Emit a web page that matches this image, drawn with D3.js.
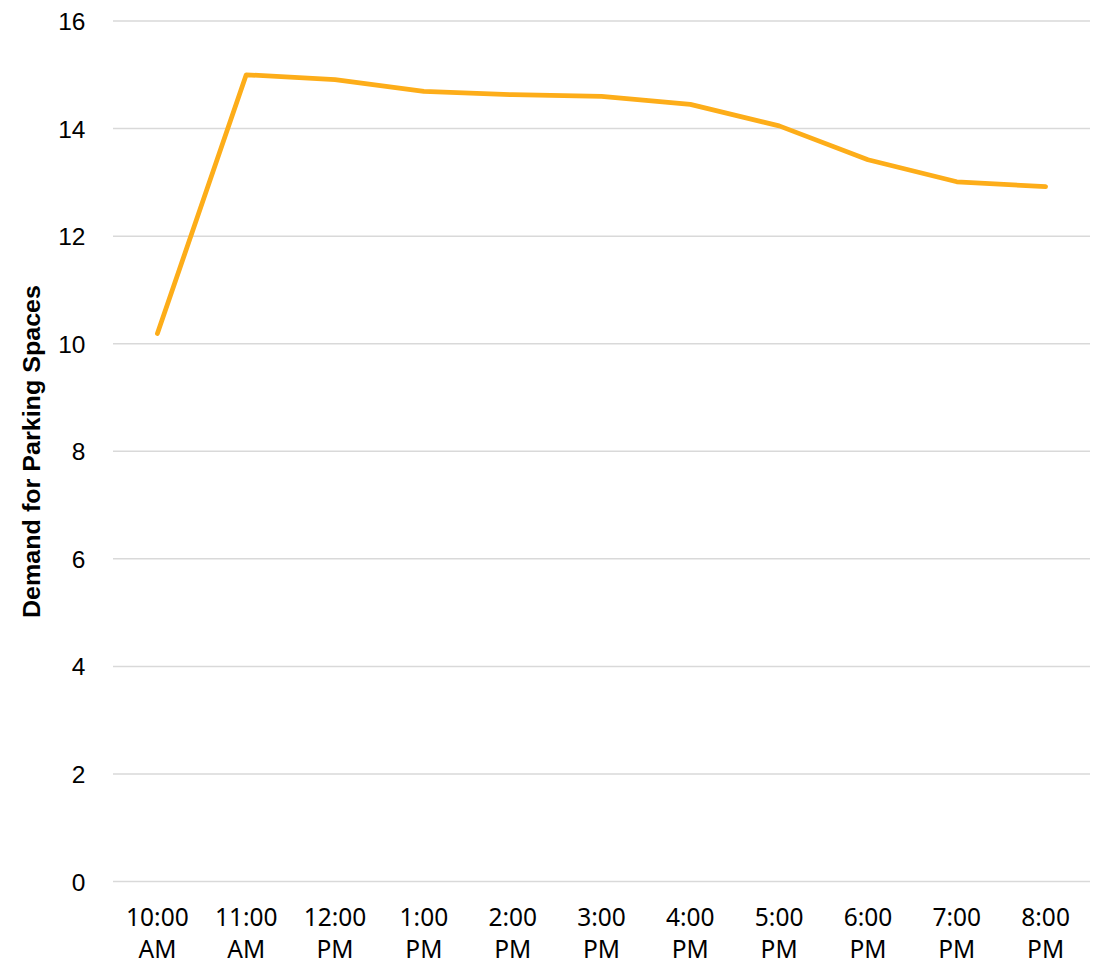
<!DOCTYPE html>
<html>
<head>
<meta charset="utf-8">
<script src="https://cdn.jsdelivr.net/npm/d3@7/dist/d3.min.js"></script>
<style>
  html, body { margin: 0; padding: 0; background: #fff; }
  svg { display: block; }
</style>
</head>
<body>
<svg id="chart" width="1099" height="966"></svg>
<script>
// Hourly parking demand
const hours = ["10:00 AM", "11:00 AM", "12:00 PM", "1:00 PM", "2:00 PM", "3:00 PM",
               "4:00 PM", "5:00 PM", "6:00 PM", "7:00 PM", "8:00 PM"];
const demand = [10.19, 15.0, 14.91, 14.69, 14.63, 14.6, 14.45, 14.05, 13.42, 13.01, 12.92];
const yTicks = [0, 2, 4, 6, 8, 10, 12, 14, 16];
const yTitle = "Demand for Parking Spaces";

const W = 1099, H = 966;
const margin = { left: 113, right: 9, top: 21, bottom: 84.5 };
const svg = d3.select("#chart");

const x = d3.scaleBand()
  .domain(hours)
  .range([margin.left, W - margin.right])
  .paddingInner(0).paddingOuter(0);

const y = d3.scaleLinear()
  .domain([0, 16])
  .range([H - margin.bottom, margin.top]);

// Horizontal gridlines
svg.append("g")
  .selectAll("line")
  .data(yTicks)
  .join("line")
  .attr("x1", margin.left)
  .attr("x2", W - margin.right)
  .attr("y1", d => y(d))
  .attr("y2", d => y(d))
  .attr("stroke", "#d9d9d9")
  .attr("stroke-width", 1.5);

// Y axis labels
const yAxis = d3.axisLeft(y).tickValues(yTicks).tickSize(0).tickPadding(0);
svg.append("g")
  .attr("transform", `translate(${margin.left - 27.5},0)`)
  .call(yAxis)
  .call(g => g.select(".domain").remove())
  .call(g => g.selectAll("text")
    .attr("font-family", "'Liberation Sans', Arial, sans-serif")
    .attr("font-size", 24.5)
    .attr("fill", "#000")
    .attr("dy", "0.35em"));

// X axis labels: time on first line, AM/PM on the second
const xAxis = d3.axisBottom(x).tickSize(0).tickFormat("");
const xg = svg.append("g")
  .attr("transform", `translate(0,${H - margin.bottom})`)
  .call(xAxis)
  .call(g => g.select(".domain").remove());

xg.selectAll(".tick").each(function(d) {
  const parts = d.split(" ");
  const t = d3.select(this).append("text")
    .attr("text-anchor", "middle")
    .attr("font-family", "'Noto Sans', sans-serif")
    .attr("font-size", 24.5)
    .attr("fill", "#000");
  t.append("tspan").attr("x", 0).attr("y", 44.5).text(parts[0]);
  t.append("tspan").attr("x", 0).attr("y", 76.5).text(parts[1]);
});

// Y axis title
svg.append("text")
  .attr("transform", `translate(40,451.5) rotate(-90)`)
  .attr("text-anchor", "middle")
  .attr("font-family", "'Liberation Sans', Arial, sans-serif")
  .attr("font-weight", "bold")
  .attr("font-size", 24)
  .attr("textLength", 333)
  .attr("lengthAdjust", "spacingAndGlyphs")
  .attr("fill", "#000")
  .text(yTitle);

// Demand line
const line = d3.line()
  .x((d, i) => x(hours[i]) + x.bandwidth() / 2)
  .y(d => y(d));

svg.append("path")
  .datum(demand)
  .attr("d", line)
  .attr("fill", "none")
  .attr("stroke", "#fdad19")
  .attr("stroke-width", 4.75)
  .attr("stroke-linejoin", "round")
  .attr("stroke-linecap", "round");
</script>
</body>
</html>
